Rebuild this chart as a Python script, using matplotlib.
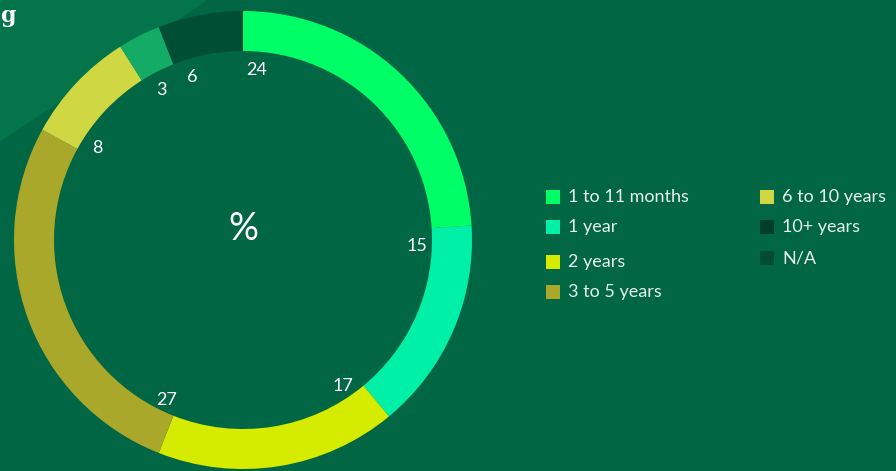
import numpy as np
import matplotlib as mpl
import matplotlib.pyplot as plt
from matplotlib.patches import Rectangle, Polygon

# --------------------------------------------------------------------------
# Data
# --------------------------------------------------------------------------
categories = ["1 to 11 months", "1 year", "2 years", "3 to 5 years",
              "6 to 10 years", "10+ years", "N/A"]
values = [24, 15, 17, 27, 8, 3, 6]
wedge_colors = ["#00ff66", "#00f0a8", "#d5ec00", "#aaa82a",
                "#cfd843", "#13ab66", "#004f35"]
legend_colors = ["#00ff66", "#00f0a8", "#d5ec00", "#aaa82a",
                 "#cfd843", "#003d2a", "#004d33"]

BG = "#006644"
LIGHT = "#04744a"
W, H = 896, 471

mpl.rcParams["font.family"] = ["Lato", "DejaVu Sans"]

fig = plt.figure(figsize=(W / 100, H / 100), dpi=100, facecolor=BG)

# lighter diagonal panel in the top-left corner (behind everything)
fig.patches.append(Polygon([(0, 1), (207 / W, 1), (100 / W, 1 - 75 / H),
                            (0, 1 - 142 / H)],
                           closed=True, transform=fig.transFigure,
                           facecolor=LIGHT, edgecolor="none", zorder=-5))

# cut-off heading at the top-left
fig.text(0, 1 - 16 / H, "g", fontsize=16, fontweight="bold",
         family="DejaVu Serif", color="white", ha="left", va="center")

# donut: centre (243, 240) px, outer radius 229 px
cx, cy, R = 243, 240, 229
ax = fig.add_axes([(cx - R) / W, (H - cy - R) / H, 2 * R / W, 2 * R / H])
ax.set_zorder(2)
ax.set_facecolor("none")
ax.axis("off")
ring = 40 / R
ax.pie(values, colors=wedge_colors, startangle=90, counterclock=False,
       radius=1, wedgeprops=dict(width=ring, edgecolor="none"))
ax.set_xlim(-1, 1)
ax.set_ylim(-1, 1)
ax.set_aspect("equal")

# value labels sit just inside the ring, near the start of each segment
start = 90.0
for v in values:
    ang = np.deg2rad(start - 4.5)
    r_l = 0.76
    ax.text(r_l * np.cos(ang), r_l * np.sin(ang) - 0.015, str(v),
            color="white", fontsize=13, ha="center", va="center")
    start -= v / sum(values) * 360

ax.text(0, 0.05, "%", color="white", fontsize=27, ha="center", va="center")

# legend, two columns
rows_left = [197, 227, 262, 292]
rows_right = [197, 227, 258]
pos = [(546, y) for y in rows_left] + [(760, y) for y in rows_right]
for (x, y), lab, col in zip(pos, categories, legend_colors):
    fig.patches.append(Rectangle((x / W, 1 - (y + 7) / H), 14 / W, 14 / H,
                                 transform=fig.transFigure, facecolor=col,
                                 edgecolor="none"))
    fig.text((x + 22) / W, 1 - y / H, lab, color="#e8f0ea", fontsize=13,
             ha="left", va="center")

fig.savefig("out.png", dpi=100, facecolor=BG)
